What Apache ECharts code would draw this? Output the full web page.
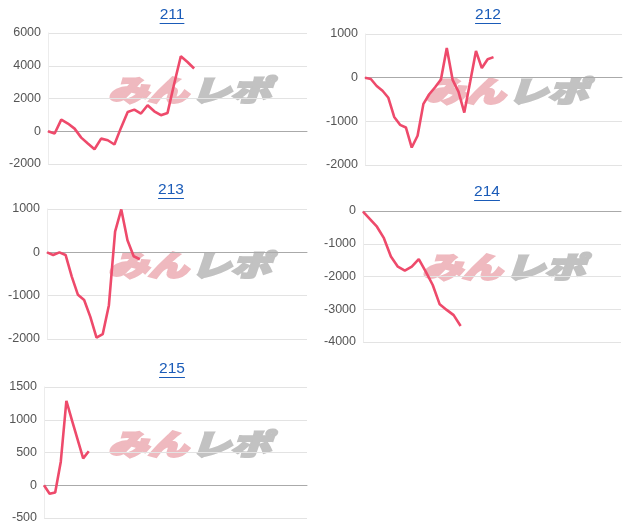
<!DOCTYPE html>
<html><head><meta charset="utf-8">
<script src="https://cdn.jsdelivr.net/npm/echarts@6/dist/echarts.min.js"></script>
<style>html,body{margin:0;padding:0;background:#fff}#c{width:630px;height:531px}</style>
</head><body><div id="c"></div>
<script>
const titles = ['211', '212', '213', '214', '215'];
const s211 = [0, -140, 710, 470, 160, -390, -750, -1100, -450, -550, -810, 220, 1180, 1320, 1080, 1590, 1220, 980, 1120, 2900, 4580, 4230, 3830];
const s212 = [0, -30, -190, -300, -460, -900, -1080, -1140, -1600, -1330, -600, -380, -220, -40, 680, -50, -320, -800, -100, 610, 220, 420, 470];
const s213 = [0, -60, 0, -60, -560, -980, -1100, -1490, -1970, -1890, -1220, 480, 990, 280, -90, -160];
const s214 = [-20, -250, -480, -830, -1390, -1700, -1820, -1700, -1470, -1850, -2260, -2850, -3020, -3180, -3510];
const s215 = [0, -130, -110, 360, 1290, 990, 700, 410, 520];
const seriesList = [s211, s212, s213, s214, s215];
const yMin = [-2000, -2000, -2000, -4000, -500];
const yMax = [6000, 1000, 1000, 0, 1500];
const yStep = [2000, 1000, 1000, 1000, 500];
const xCount = [40, 45, 43, 38, 48];

// layout (pixels)
const grids = [
  {left: 48, top: 33, width: 259, height: 131},
  {left: 365, top: 34, width: 257, height: 131},
  {left: 47, top: 209, width: 260, height: 130},
  {left: 363, top: 211, width: 258, height: 131},
  {left: 44, top: 387, width: 263, height: 131}
];
const titlePos = [[172, 15], [488, 15], [171, 190], [487, 192], [172, 369]];
const wmPos = [[188, 90], [505, 91], [188, 265], [502, 267], [188, 444]];

const chart = echarts.init(document.getElementById('c'), null, {renderer: 'canvas'});
const titleFont = '15.5px "Liberation Sans", Arial, sans-serif';
const cv = document.createElement('canvas').getContext('2d');
cv.font = titleFont;

const graphics = [];
titles.forEach((t, i) => {
  const [cx, cy] = titlePos[i];
  const w = cv.measureText(t).width;
  graphics.push({type: 'text', left: cx - w / 2, top: cy - 8, z: 10,
    style: {text: t, font: titleFont, fill: '#1a5bb8'}});
  graphics.push({type: 'rect', left: cx - w / 2, top: cy + 8, z: 10,
    shape: {width: w, height: 1}, style: {fill: '#1a5bb8'}});
});
const wmFont = 'italic 900 29px "Noto Sans CJK JP"';
wmPos.forEach(([cx, cy]) => {
  graphics.push({type: 'group', x: cx, y: cy, scaleX: 1.38, z: 0, children: [
    {type: 'text', x: -58, y: -15, style: {text: 'みん', font: wmFont, fill: '#efb9bf', stroke: '#efb9bf', lineWidth: 2.4}},
    {type: 'text', x: 2, y: -15, style: {text: 'レポ', font: wmFont, fill: '#c2c2c2', stroke: '#c2c2c2', lineWidth: 2.4}}
  ]});
});

const option = {
  animation: false,
  backgroundColor: '#fff',
  grid: grids.map(g => Object.assign({containLabel: false}, g)),
  xAxis: seriesList.map((s, i) => ({
    type: 'category', gridIndex: i, boundaryGap: false,
    data: Array.from({length: xCount[i]}, (_, k) => String(k + 1)),
    axisLine: {show: true, onZero: true, lineStyle: {color: '#aaaaaa', width: 1}},
    axisTick: {show: false}, axisLabel: {show: false}, splitLine: {show: false}
  })),
  yAxis: seriesList.map((s, i) => ({
    type: 'value', gridIndex: i, min: yMin[i], max: yMax[i], interval: yStep[i],
    axisLine: {show: true, lineStyle: {color: '#ececec'}},
    axisTick: {show: false},
    axisLabel: {color: '#555', fontSize: 12.5, fontFamily: '"Liberation Sans", Arial, sans-serif', margin: 7,
      formatter: v => String(v)},
    splitLine: {show: true, lineStyle: {color: '#e3e3e3'}}
  })),
  series: seriesList.map((s, i) => ({
    type: 'line', xAxisIndex: i, yAxisIndex: i, data: s, z: 5,
    showSymbol: false, symbol: 'none',
    lineStyle: {color: '#ee4a6b', width: 2.6}, itemStyle: {color: '#ee4a6b'}
  })),
  graphic: graphics
};
chart.setOption(option);
</script></body></html>
